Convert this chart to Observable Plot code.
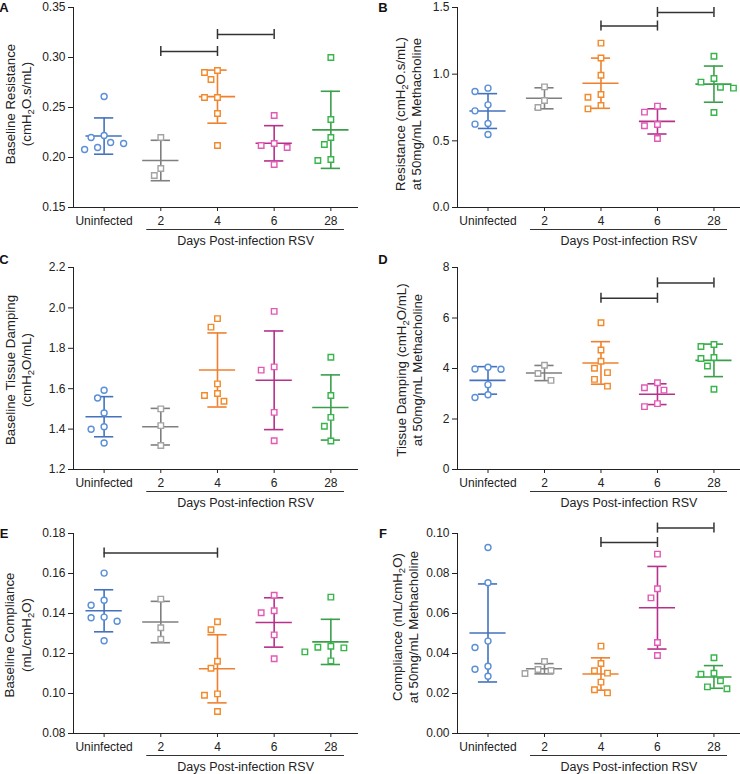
<!DOCTYPE html>
<html><head><meta charset="utf-8">
<script src="https://cdn.jsdelivr.net/npm/d3@7"></script>
<script src="https://cdn.jsdelivr.net/npm/@observablehq/plot@0.6"></script>
<style>
body{margin:0;background:#fff;}
#root{position:relative;width:740px;height:774px;overflow:hidden;font-family:"Liberation Sans",Arial,Helvetica,sans-serif;}
#root svg{position:absolute;}
</style></head><body><div id="root"></div>
<script>
// ---- categories & colours ----
const groups = ["Uninfected", "2", "4", "6", "28"];
const xTitle = "Days Post-infection RSV";
const pointColors = ["#5b8fd6", "#a3a3a3", "#f28a2a", "#e35ab6", "#36b54a"];
const lineColors  = ["#4472bd", "#7f7f7f", "#ee8030", "#b5318a", "#3c9e4b"];

// ---- values (one array per group: Uninfected, 2, 4, 6, 28) ----
const baselineResistance = [
  [0.261, 0.222, 0.220, 0.214, 0.208, 0.210, 0.215],
  [0.220, 0.189, 0.182],
  [0.285, 0.287, 0.278, 0.260, 0.260, 0.244, 0.212],
  [0.242, 0.212, 0.210, 0.214, 0.193],
  [0.300, 0.238, 0.220, 0.213, 0.197, 0.198]
];
const mchResistance = [
  [0.870, 0.895, 0.770, 0.725, 0.630, 0.625, 0.548],
  [0.905, 0.802, 0.750],
  [1.233, 1.121, 0.992, 0.827, 0.847, 0.765, 0.740],
  [0.760, 0.715, 0.623, 0.613, 0.518],
  [1.134, 0.967, 0.940, 0.902, 0.895, 0.713]
];
const baselineDamping = [
  [1.592, 1.554, 1.480, 1.412, 1.399, 1.331],
  [1.500, 1.417, 1.319],
  [1.905, 1.947, 1.624, 1.576, 1.538, 1.566],
  [1.983, 1.692, 1.708, 1.483, 1.342],
  [1.756, 1.566, 1.458, 1.414, 1.341]
];
const mchDamping = [
  [3.98, 3.97, 4.05, 3.36, 2.85, 2.96],
  [4.13, 3.80, 3.53],
  [5.81, 4.73, 4.29, 4.01, 3.835, 3.57, 3.30],
  [3.435, 3.236, 3.142, 2.61, 2.49],
  [4.953, 4.874, 4.394, 4.434, 4.10, 3.18]
];
const baselineCompliance = [
  [0.1602, 0.1441, 0.1466, 0.1379, 0.1361, 0.1382, 0.1264],
  [0.1472, 0.1329, 0.1271],
  [0.1359, 0.1319, 0.1161, 0.1126, 0.0998, 0.0991, 0.0910],
  [0.1491, 0.1404, 0.1414, 0.1293, 0.1174],
  [0.1482, 0.1228, 0.1236, 0.1231, 0.1208, 0.1163]
];
const mchCompliance = [
  [0.0930, 0.0754, 0.0462, 0.0430, 0.0336, 0.0321, 0.0286],
  [0.0360, 0.0300, 0.0315, 0.0320],
  [0.0437, 0.0350, 0.0314, 0.0302, 0.0257, 0.0203, 0.0219],
  [0.0897, 0.0724, 0.0678, 0.0455, 0.0390],
  [0.0379, 0.0301, 0.0296, 0.0264, 0.0233, 0.0224]
];

// ---- significance brackets (group index from -> to, at value) ----
const bracketsA = [{from: 1, to: 2, y: 0.306}, {from: 2, to: 3, y: 0.323}];
const bracketsB = [{from: 2, to: 3, y: 1.361}, {from: 3, to: 4, y: 1.463}];
const bracketsC = [];
const bracketsD = [{from: 2, to: 3, y: 6.78}, {from: 3, to: 4, y: 7.39}];
const bracketsE = [{from: 0, to: 2, y: 0.1702}];
const bracketsF = [{from: 2, to: 3, y: 0.0955}, {from: 3, to: 4, y: 0.1027}];

// ---- tick values ----
const ticksA = [0.15, 0.20, 0.25, 0.30, 0.35];
const ticksB = [0.0, 0.5, 1.0, 1.5];
const ticksC = [1.2, 1.4, 1.6, 1.8, 2.0, 2.2];
const ticksD = [0, 2, 4, 6, 8];
const ticksE = [0.08, 0.10, 0.12, 0.14, 0.16, 0.18];
const ticksF = [0.00, 0.02, 0.04, 0.06, 0.08, 0.10];

// ---- layout ----
const rows = [
  {top: 0,   h: 255, mt: 7,  fh: 200, letterY: 12},
  {top: 255, h: 255, mt: 12, fh: 202, letterY: 9},
  {top: 510, h: 264, mt: 23, fh: 200, letterY: 28}
];
const cols = [
  {left: 0,   ml: 73, mr: 13, letterX: 4},
  {left: 370, ml: 87, mr: 0,  letterX: 13}
];
const xDomain = [-0.54, 4.47];
const laneGap = 6.5, minDist = 9.5;

const panels = [
  {letter: "A", values: baselineResistance, domain: [0.15, 0.35], ticks: ticksA, fmt: d3.format(".2f"),
   labels: ["Baseline Resistance", "(cmH~2~O.s/mL)"], labelX: [15, 31], labelDy: -3, brackets: bracketsA, row: 0, col: 0},
  {letter: "B", values: mchResistance, domain: [0, 1.5], ticks: ticksB, fmt: d3.format(".1f"),
   labels: ["Resistance (cmH~2~O.s/mL)", "at 50mg/mL Methacholine"], labelX: [35, 51], labelDy: 7, brackets: bracketsB, row: 0, col: 1},
  {letter: "C", values: baselineDamping, domain: [1.2, 2.2], ticks: ticksC, fmt: d3.format(".1f"),
   labels: ["Baseline Tissue Damping", "(cmH~2~O/mL)"], labelX: [15, 31], labelDy: 2, brackets: bracketsC, row: 1, col: 0},
  {letter: "D", values: mchDamping, domain: [0, 8], ticks: ticksD, fmt: d3.format("d"),
   labels: ["Tissue Damping (cmH~2~O/mL)", "at 50mg/mL Methacholine"], labelX: [36, 52], labelDy: 2, brackets: bracketsD, row: 1, col: 1},
  {letter: "E", values: baselineCompliance, domain: [0.08, 0.18], ticks: ticksE, fmt: d3.format(".2f"),
   labels: ["Baseline Compliance", "(mL/cmH~2~O)"], labelX: [14, 31], labelDy: 2, brackets: bracketsE, row: 2, col: 0},
  {letter: "F", values: mchCompliance, domain: [0, 0.10], ticks: ticksF, fmt: d3.format(".2f"),
   labels: ["Compliance (mL/cmH~2~O)", "at 50mg/mL Methacholine"], labelX: [32, 48], labelDy: -6, brackets: bracketsF, row: 2, col: 1}
];

const root = document.getElementById("root");

function render(p) {
  const row = rows[p.row], col = cols[p.col];
  const [y0, y1] = p.domain;
  const fh = row.fh, fw = 370 - col.ml - col.mr;
  const unitPerPx = (y1 - y0) / fh;
  const pxPerX = fw / (xDomain[1] - xDomain[0]);
  const points = [], stats = [];
  p.values.forEach((vals, g) => {
    const placed = [];
    const order = vals.map((v, k) => k).sort((a, b) => vals[b] - vals[a]);
    const offs = new Array(vals.length).fill(0);
    for (const k of order) {
      const py = (vals[k] - y0) / unitPerPx;
      let off = 0;
      for (let j = 0; j < 30; j++) {
        const lane = j === 0 ? 0 : (j % 2 === 1 ? -(j + 1) / 2 : j / 2);
        const o = lane * laneGap;
        if (placed.every(q => (o - q.o) ** 2 + (py - q.py) ** 2 >= minDist ** 2)) { off = o; break; }
      }
      placed.push({o: off, py});
      offs[k] = off;
    }
    vals.forEach((v, k) => points.push({x: g + offs[k] / pxPerX, v, g, stroke: pointColors[g]}));
    const m = d3.mean(vals), s = d3.deviation(vals);
    stats.push({i: g, mean: m, lo: m - s, hi: m + s, stroke: lineColors[g]});
  });
  const ends = p.brackets.flatMap(b => [{x: b.from, y: b.y}, {x: b.to, y: b.y}]);
  const tickHalf = 5 * unitPerPx;
  const under = [{a: 0.752, b: 4.24, y: y0 - 22 * unitPerPx}];
  const titleRow = [{x: (0.752 + 4.24) / 2, y: y0 - 33 * unitPerPx, t: xTitle}];
  const meanW = 0.32, capW = 0.17;

  const plot = Plot.plot({
    width: 370, height: row.h,
    marginTop: row.mt, marginBottom: row.h - row.mt - fh, marginLeft: col.ml, marginRight: col.mr,
    x: {domain: xDomain, ticks: [0, 1, 2, 3, 4], tickFormat: i => groups[i], tickSize: 4, tickPadding: 5, line: true, label: null},
    y: {domain: p.domain, ticks: p.ticks, tickFormat: p.fmt, tickSize: 5, tickPadding: 3, line: true, label: null},
    color: {type: "identity"},
    style: {fontFamily: '"Liberation Sans", Arial, Helvetica, sans-serif', fontSize: "12px", color: "#222", background: "transparent", overflow: "visible"},
    marks: [
      Plot.ruleX(stats, {x: "i", y1: "lo", y2: "hi", stroke: "stroke", strokeWidth: 1.6}),
      Plot.ruleY(stats, {y: "hi", x1: d => d.i - capW, x2: d => d.i + capW, stroke: "stroke", strokeWidth: 1.6}),
      Plot.ruleY(stats, {y: "lo", x1: d => d.i - capW, x2: d => d.i + capW, stroke: "stroke", strokeWidth: 1.6}),
      Plot.ruleY(stats, {y: "mean", x1: d => d.i - meanW, x2: d => d.i + meanW, stroke: "stroke", strokeWidth: 1.6}),
      Plot.ruleY(p.brackets, {y: "y", x1: "from", x2: "to", stroke: "#333", strokeWidth: 1.5}),
      Plot.ruleX(ends, {x: "x", y1: d => d.y - tickHalf, y2: d => d.y + tickHalf, stroke: "#333", strokeWidth: 1.5}),
      Plot.dot(points.filter(d => d.g === 0), {x: "x", y: "v", r: 3.0, symbol: "circle", stroke: "stroke", fill: "white", strokeWidth: 1.4}),
      Plot.dot(points.filter(d => d.g !== 0), {x: "x", y: "v", r: 3.1, symbol: "square", stroke: "stroke", fill: "white", strokeWidth: 1.4}),
      Plot.ruleY(under, {y: "y", x1: "a", x2: "b", stroke: "#333", strokeWidth: 1.2}),
      Plot.text(titleRow, {x: "x", y: "y", text: "t", fontSize: 12.5, fill: "#222"})
    ]
  });
  plot.style.left = col.left + "px";
  plot.style.top = row.top + "px";
  const svg = d3.select(plot);
  // panel letter
  svg.append("text").attr("x", col.letterX).attr("y", row.letterY)
    .style("font-weight", "bold").style("font-size", "13px").attr("fill", "#111").text(p.letter);
  // y-axis title (two lines, with subscripts)
  const cy = row.mt + fh / 2 + p.labelDy;
  p.labels.forEach((lab, li) => {
    const t = svg.append("text")
      .attr("transform", `translate(${p.labelX[li]},${cy}) rotate(-90)`)
      .attr("text-anchor", "middle").attr("fill", "#222").style("font-size", "13.3px");
    lab.split("~").forEach((part, k) => {
      const ts = t.append("tspan").text(part);
      if (k % 2 === 1) ts.attr("dy", 3).style("font-size", "9.5px");
      else if (k > 0) ts.attr("dy", -3);
    });
  });
  root.appendChild(plot);
}
panels.forEach(render);
</script></body></html>
